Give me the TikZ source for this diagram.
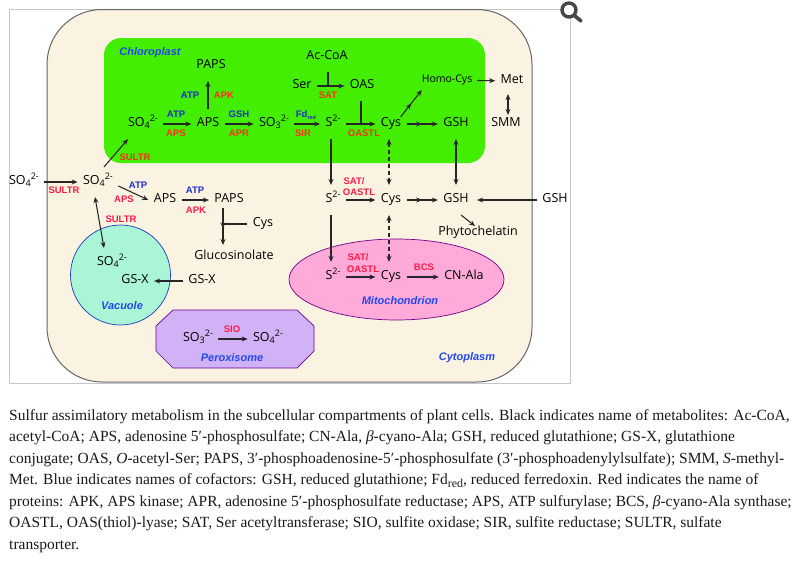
\documentclass[tikz,border=0pt]{standalone}
\usepackage{fontspec}
\setmainfont{Liberation Serif}
\newfontfamily\labfont{Liberation Sans}
\newfontfamily\metfont{Open Sans}
\usetikzlibrary{arrows.meta,positioning,calc,decorations.markings}
\definecolor{cellfill}{HTML}{FBF3E2}
\definecolor{chlorofill}{HTML}{44EE00}
\definecolor{vacfill}{HTML}{A9F5D6}
\definecolor{mitofill}{HTML}{FFAAD8}
\definecolor{peroxfill}{HTML}{D2B2F6}
\definecolor{enzred}{HTML}{FF1A45}
\definecolor{chlred}{HTML}{F5331A}
\definecolor{cofblue}{HTML}{1F2FC8}
\definecolor{compblue}{HTML}{2448F0}
\newcommand{\ionsub}[2]{#1\raisebox{-2.5pt}{\fontsize{9}{9}\selectfont #2}\raisebox{5pt}{\fontsize{9}{9}\selectfont 2-}}
\newcommand{\sfour}{\ionsub{SO}{4}}
\newcommand{\sthree}{\ionsub{SO}{3}}
\newcommand{\stwo}{S\raisebox{5pt}{\fontsize{9}{9}\selectfont 2-}}

\begin{document}
\begin{tikzpicture}[x=1pt, y=-1pt, >={Stealth[length=6pt,width=5pt]},
  met/.style={font=\metfont\fontsize{12.5}{15}\selectfont, text height=12pt, text depth=8pt, inner sep=0pt, outer xsep=5.5pt, outer ysep=5pt},
  enz/.style={font=\labfont\bfseries\fontsize{9.5}{11}\selectfont, text=enzred, inner sep=0pt},
  chl/.style={enz, text=chlred},
  cof/.style={enz, text=cofblue},
  comp/.style={font=\labfont\bfseries\itshape\fontsize{11}{13}\selectfont, text=compblue, inner sep=0pt},
  rxn/.style={->, line width=1.05pt, black!85},
  bar/.style={line width=1.05pt, black!85},
  both/.style={<->, line width=1.05pt, black!85},
  dbl/.style={<->, dash pattern=on 4pt off 3pt, line width=1.05pt, black!85},
  midtip/.style={postaction={decorate}, decoration={markings, mark=at position 0.5 with {\arrow{Stealth[length=6pt,width=5pt]}}}},
  capt/.style={anchor=base west, font=\fontsize{15.5}{17}\selectfont, inner sep=0pt, text=black!90},
]
  \useasboundingbox (0,0) rectangle (800,560);
  % frame and cell
  \draw[black!22, line width=0.7pt] (9,9) rectangle (570,383);
  \draw[black!60, line width=1pt, fill=cellfill, rounded corners=55pt] (47,9.5) rectangle (532,382);
  \fill[chlorofill] (104,38) [rounded corners=17pt] rectangle (485,163);
  \draw[compblue!80!black, line width=0.7pt, fill=vacfill] (120.5,275) circle (50);
  \draw[purple!60!blue, line width=0.7pt, fill=mitofill] (396.5,279.5) ellipse (107.5 and 40.5);
  \draw[blue!45!purple, line width=0.7pt, fill=peroxfill] (173,310) -- (297,310) -- (314,326) -- (314,351) -- (297,368) -- (173,368) -- (156,351) -- (156,326) -- cycle;

  % magnifier
  \draw[black!72, line width=3.4pt, fill=white] (569,10) circle (7);
  \draw[black!72, line width=3.6pt, line cap=round] (575,16) -- (581,21);

  % compartment names
  \node[comp] (chloro) at (150,53) {Chloroplast};
  \node[comp] (vacuole) at (122,306) {Vacuole};
  \node[comp] (mito) at (400,301) {Mitochondrion};
  \node[comp] (perox) at (232,358) {Peroxisome};
  \node[comp] (cyto) at (467,358) {Cytoplasm};

  % chloroplast
  \node[met] (papsc) at (211,66) {PAPS};
  \node[met] (so4c) at (143,124) {\sfour};
  \node[met] (apsc) at (208,124) {APS};
  \node[met] (so3c) at (274,124) {\sthree};
  \node[met] (s2c) at (333,124) {\stwo};
  \node[met] (cysc) at (391,124) {Cys};
  \node[met] (gshc) at (456,124) {GSH};
  \node[met] (acoa) at (327,57) {Ac-CoA};
  \node[met] (ser) at (302,86) {Ser};
  \node[met] (oas) at (362,86) {OAS};
  \node[met, font=\metfont\fontsize{10.5}{13}\selectfont, outer sep=0pt] (hcys) at (447,80) {Homo-Cys};
  \node[met] (met) at (512,81) {Met};
  \node[met] (smm) at (506,124) {SMM};
  \coordinate (satj) at (328,86);
  \coordinate (oastlj) at (361,124);

  \node[cof] (atp1) at (176,114) {ATP};
  \node[chl] (aps1) at (176,133) {APS};
  \node[cof] (gsh1) at (239,114) {GSH};
  \node[chl] (apr) at (239,133) {APR};
  \node[cof] (fdred) at (306,115) {Fd\raisebox{-1.5pt}{\fontsize{5.5}{6}\selectfont red}};
  \node[chl] (sir) at (303,133) {SIR};
  \node[cof] (atp2) at (190,95) {ATP};
  \node[chl] (apk1) at (224,95) {APK};
  \node[chl] (sat1) at (328,95) {SAT};
  \node[chl] (oastl1) at (364,133) {OASTL};
  \node[chl] (sultr1) at (135,157) {SULTR};

  \draw[rxn] (so4c) -- (apsc);
  \draw[rxn] (apsc) -- (so3c);
  \draw[rxn] (so3c) -- (s2c);
  \draw[rxn] (apsc.north) -- (apsc.north |- papsc.south);
  \draw[rxn] (ser) -- (oas);
  \draw[bar] (acoa.south -| satj) -- (satj);
  \draw[rxn] (s2c) -- (cysc);
  \draw[bar] (oas.south -| oastlj) -- (oastlj);
  \draw[rxn, midtip] (cysc) -- (gshc);
  \draw[rxn, midtip] ([xshift=-6pt,yshift=-8pt]cysc.north east) -- (hcys.south west);
  \draw[rxn, shorten <=5pt] (hcys) -- (met);
  \draw[both] ([xshift=-4pt,yshift=2pt]met.south) -- ([xshift=2pt,yshift=-6pt]smm.north);

  % cytosol
  \node[met] (so4o) at (24,182) {\sfour};
  \node[met] (so4b) at (98,182) {\sfour};
  \node[met] (apsb) at (165,200) {APS};
  \node[met] (papsb) at (229,200) {PAPS};
  \node[met] (cysd) at (263,224) {Cys};
  \node[met] (gluc) at (234,257) {Glucosinolate};
  \node[met] (s2b) at (333,200) {\stwo};
  \node[met] (cysb) at (391,200) {Cys};
  \node[met] (gshb) at (456,200) {GSH};
  \node[met] (gsho) at (555,200) {GSH};
  \node[met] (phyto) at (478,233) {Phytochelatin};
  \node[met] (gsxo) at (202,281) {GS-X};
  \coordinate (cysj) at (223,224);

  \node[enz] (sultr2) at (64,190) {SULTR};
  \node[cof] (atp3) at (138,185) {ATP};
  \node[enz] (aps2) at (124,199) {APS};
  \node[cof] (atp4) at (195,190) {ATP};
  \node[enz] (apk2) at (196,210) {APK};
  \node[enz] (sat2) at (354,181) {SAT/};
  \node[enz] (oastl2) at (359,192) {OASTL};
  \node[enz] (sultr3) at (121,219) {SULTR};

  \draw[rxn] (so4o) -- (so4b);
  \draw[rxn] ([xshift=6pt]so4b.north) -- ([xshift=-15pt]so4c.south);
  \draw[rxn] ([yshift=-4pt]so4b.east) -- (apsb.west);
  \draw[rxn] (apsb) -- (papsb);
  \draw[rxn, midtip, shorten <=-7pt, shorten >=-3pt] ([xshift=-6pt]papsb.south) -- ([xshift=-11pt]gluc.north);
  \draw[bar] (cysd) -- (cysj);
  \draw[rxn] ([xshift=-2pt]s2c.south) -- ([xshift=-2pt]s2b.north);
  \draw[rxn] (s2b) -- (cysb);
  \draw[rxn, midtip] (cysb) -- (gshb);
  \draw[rxn, shorten >=3pt] (gsho) -- (gshb);
  \draw[rxn] ([xshift=5pt]gshb.south) -- ([xshift=-3pt,yshift=-8pt]phyto.north);
  \draw[dbl] ([xshift=-2pt]cysc.south) -- ([xshift=-2pt]cysb.north);
  \draw[both] (gshc) -- (gshb);

  % mitochondrion
  \node[met] (s2m) at (333,277) {\stwo};
  \node[met] (cysm) at (391,277) {Cys};
  \node[met] (cnala) at (464,277) {CN-Ala};
  \node[enz] (sat3) at (358,257) {SAT/};
  \node[enz] (oastl3) at (363,269) {OASTL};
  \node[enz] (bcs) at (424,267) {BCS};

  \draw[rxn] (s2m) -- (cysm);
  \draw[rxn] (cysm) -- (cnala);
  \draw[rxn] ([xshift=-2pt]s2b.south) -- ([xshift=-2pt]s2m.north);
  \draw[dbl] ([xshift=-2pt]cysb.south) -- ([xshift=-2pt]cysm.north);

  % vacuole
  \node[met] (so4v) at (112,263) {\sfour};
  \node[met] (gsxv) at (135,281) {GS-X};
  \draw[both] ([xshift=-3pt]so4b.south) -- ([xshift=-8pt]so4v.north);
  \draw[rxn] (gsxo) -- (gsxv);

  % peroxisome
  \node[met] (so3p) at (198,339) {\sthree};
  \node[met] (so4p) at (268,339) {\sfour};
  \node[enz] (sio) at (232,329) {SIO};
  \draw[rxn] (so3p) -- (so4p);

  % caption
  \node[capt] (l1) at (9,420) {Sulfur assimilatory metabolism in the subcellular compartments of plant cells. Black indicates name of metabolites: Ac-CoA,};
  \node[capt] (l2) at (9,441.5) {acetyl-CoA; APS, adenosine 5′-phosphosulfate; CN-Ala, \textit{β}-cyano-Ala; GSH, reduced glutathione; GS-X, glutathione};
  \node[capt] (l3) at (9,463) {conjugate; OAS, \textit{O}-acetyl-Ser; PAPS, 3′-phosphoadenosine-5′-phosphosulfate (3′-phosphoadenylylsulfate); SMM, \textit{S}-methyl-};
  \node[capt] (l4) at (9,484.5) {Met. Blue indicates names of cofactors: GSH, reduced glutathione; Fd\raisebox{-2.5pt}{\fontsize{12}{13}\selectfont red}, reduced ferredoxin. Red indicates the name of};
  \node[capt] (l5) at (9,506) {proteins: APK, APS kinase; APR, adenosine 5′-phosphosulfate reductase; APS, ATP sulfurylase; BCS, \textit{β}-cyano-Ala synthase;};
  \node[capt] (l6) at (9,527.5) {OASTL, OAS(thiol)-lyase; SAT, Ser acetyltransferase; SIO, sulfite oxidase; SIR, sulfite reductase; SULTR, sulfate};
  \node[capt] (l7) at (9,549) {transporter.};
\end{tikzpicture}
\end{document}
